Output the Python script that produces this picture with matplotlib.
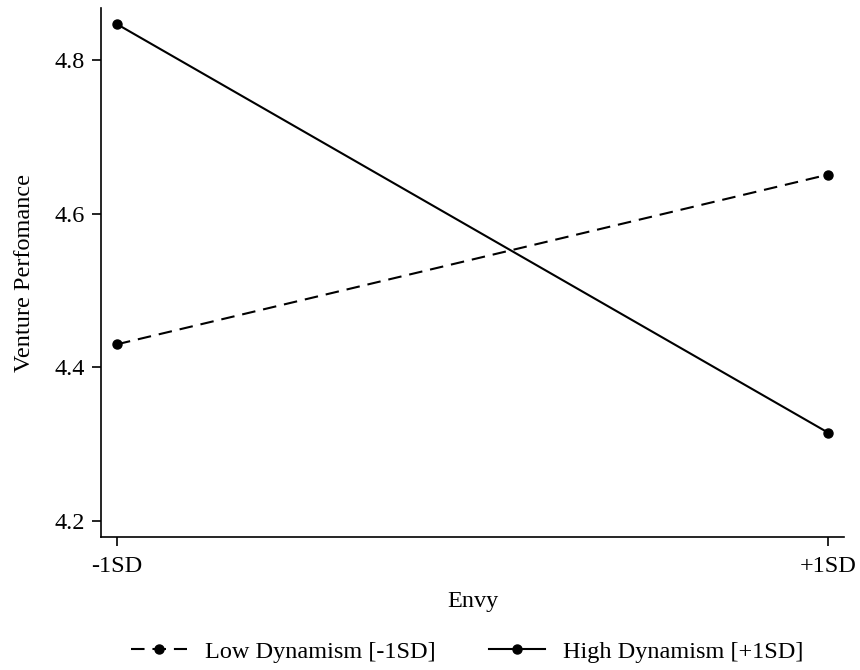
import matplotlib
matplotlib.use("Agg")
import matplotlib.pyplot as plt

plt.rcParams['font.family'] = ['Liberation Serif', 'DejaVu Serif']

x_labels = ["-1SD", "+1SD"]
x_pos = [-1, 1]
low_dyn = [4.430, 4.651]
high_dyn = [4.847, 4.315]
y_ticks = [4.2, 4.4, 4.6, 4.8]

FS = 17.5

fig = plt.figure(figsize=(8.6, 6.7), dpi=100)
ax = fig.add_axes([0.1174, 0.1985, 0.864, 0.7895])

ax.plot(x_pos, low_dyn, color='black', lw=1.5, ls=(0, (6.5, 3.8)),
        marker='o', ms=6.5, label='Low Dynamism [-1SD]')
ax.plot(x_pos, high_dyn, color='black', lw=1.5, ls='-',
        marker='o', ms=6.5, label='High Dynamism [+1SD]')

ax.set_xlim(-1.045, 1.045)
ax.set_ylim(4.179, 4.868)
ax.set_xticks(x_pos)
ax.set_xticklabels(x_labels)
ax.set_yticks(y_ticks)
ax.set_yticklabels([f"{v:.1f}" for v in y_ticks])

for s in ['top', 'right']:
    ax.spines[s].set_visible(False)
for s in ['left', 'bottom']:
    ax.spines[s].set_linewidth(1.2)
ax.tick_params(axis='both', labelsize=FS, width=1.2, length=6.5)
ax.tick_params(axis='x', pad=7)
ax.tick_params(axis='y', pad=5)

ax.set_xlabel('Envy', fontsize=FS, labelpad=10)
ax.set_ylabel('Venture Perfomance', fontsize=FS, labelpad=14)

ax.legend(loc='upper center', bbox_to_anchor=(0.493, -0.155), ncol=2,
          frameon=False, fontsize=FS, handlelength=2.3, columnspacing=2.2,
          handletextpad=0.75, markerscale=1.0)

fig.savefig('out.png', dpi=100)
